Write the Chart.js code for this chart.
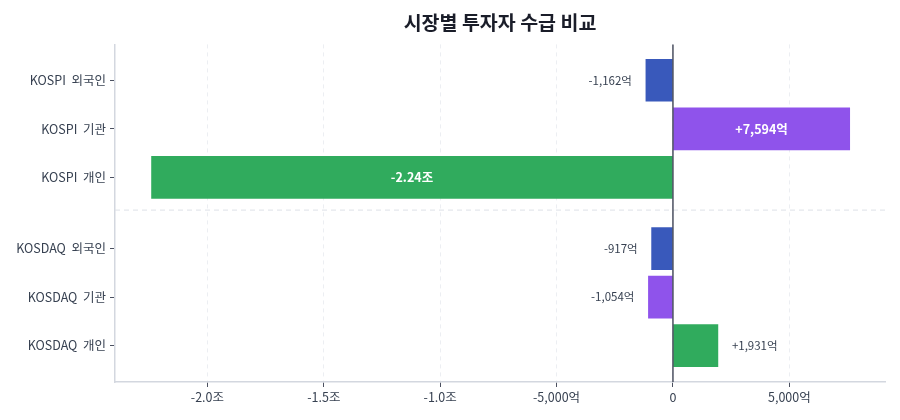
<!DOCTYPE html>
<html>
<head>
<meta charset="utf-8">
<script src="https://cdn.jsdelivr.net/npm/chart.js@4/dist/chart.umd.min.js"></script>
<style>
html,body{margin:0;padding:0;background:#fff;}
#wrap{width:900px;height:420px;}
</style>
</head>
<body>
<div id="wrap"><canvas id="c" width="900" height="420"></canvas></div>
<script>
const markets = ['KOSPI', 'KOSDAQ'];
const investors = ['외국인', '기관', '개인'];
const kospiValues = [-1162, 7594, -22400];   // 억원
const kosdaqValues = [-917, -1054, 1931];    // 억원
const xTickValues = [-20000, -15000, -10000, -5000, 0, 5000];
const xTickLabels = ['-2.0조', '-1.5조', '-1.0조', '-5,000억', '0', '5,000억'];

const investorColors = ['rgba(49,82,184,0.96)', 'rgba(138,76,234,0.96)', 'rgba(40,168,86,0.96)'];
const groupGap = 0.47;

const seriesByMarket = [kospiValues, kosdaqValues];
const points = [], colors = [], labels = [], positions = [];
markets.forEach((m, gi) => {
  investors.forEach((inv, ii) => {
    const pos = gi * (investors.length + groupGap) + ii;
    points.push({x: seriesByMarket[gi][ii], y: pos});
    colors.push(investorColors[ii]);
    labels.push(m + '  ' + inv);
    positions.push(pos);
  });
});

function fmtValue(v) {
  const sign = v > 0 ? '+' : (v < 0 ? '-' : '');
  const a = Math.abs(v);
  if (a >= 10000) return sign + (a / 10000).toFixed(2) + '조';
  return sign + a.toLocaleString('en-US') + '억';
}

const FONT = "'Noto Sans CJK KR', 'Noto Sans', sans-serif";

const overlay = {
  id: 'overlay',
  afterDatasetsDraw(chart) {
    const {ctx, chartArea: ca, scales: {x, y}} = chart;
    ctx.save();
    // separator between markets
    const sepY = y.getPixelForValue(2 + (1 + groupGap) * 0.46);
    ctx.strokeStyle = '#dde1e7';
    ctx.lineWidth = 1;
    ctx.setLineDash([5, 4]);
    ctx.beginPath();
    ctx.moveTo(ca.left, sepY);
    ctx.lineTo(ca.right, sepY);
    ctx.stroke();
    ctx.setLineDash([]);
    // zero line
    const zx = x.getPixelForValue(0);
    ctx.strokeStyle = '#4b5060';
    ctx.lineWidth = 1.5;
    ctx.beginPath();
    ctx.moveTo(zx, ca.top);
    ctx.lineTo(zx, ca.bottom);
    ctx.stroke();
    // value labels
    const meta = chart.getDatasetMeta(0);
    meta.data.forEach((bar, i) => {
      const v = points[i].x;
      const w = Math.abs(bar.x - bar.base);
      const txt = fmtValue(v);
      ctx.textBaseline = 'middle';
      if (w > 120) {
        ctx.font = 'bold 12.5px ' + FONT;
        ctx.fillStyle = '#ffffff';
        ctx.textAlign = 'center';
        ctx.fillText(txt, (bar.x + bar.base) / 2, bar.y);
      } else {
        ctx.font = '11.5px ' + FONT;
        ctx.fillStyle = '#374151';
        if (v < 0) {
          ctx.textAlign = 'right';
          ctx.fillText(txt, bar.x - 14, bar.y);
        } else {
          ctx.textAlign = 'left';
          ctx.fillText(txt, bar.x + 14, bar.y);
        }
      }
    });
    ctx.restore();
  }
};

new Chart(document.getElementById('c'), {
  type: 'bar',
  data: {
    datasets: [{
      data: points,
      backgroundColor: colors,
      borderWidth: 0,
      barThickness: 42
    }]
  },
  options: {
    responsive: false,
    animation: false,
    indexAxis: 'y',
    layout: {padding: {left: 10, right: 15, top: 9, bottom: 4}},
    plugins: {
      legend: {display: false},
      tooltip: {enabled: false},
      title: {
        display: true,
        fullSize: false,
        text: '시장별 투자자 수급 비교',
        color: '#1a1d29',
        font: {family: FONT, size: 19.5, weight: 'bold'},
        padding: {top: 2, bottom: 10}
      }
    },
    scales: {
      x: {
        type: 'linear',
        min: -23970,
        max: 9110,
        afterBuildTicks: (s) => { s.ticks = xTickValues.map(v => ({value: v})); },
        afterFit: (s) => { s.height = 34; },
        ticks: {
          color: '#374151',
          font: {family: FONT, size: 12.5},
          padding: 3,
          callback: (v) => { const k = xTickValues.indexOf(v); return k >= 0 ? xTickLabels[k] : ''; }
        },
        grid: {color: '#eceef2', tickColor: '#4b5060', tickLength: 5, lineWidth: 1},
        border: {display: true, color: '#d3d7df', width: 1.5, dash: [4, 4]}
      },
      y: {
        type: 'linear',
        reverse: true,
        offset: false,
        min: -0.74,
        max: 6.22,
        afterBuildTicks: (s) => { s.ticks = positions.map(v => ({value: v})); },
        afterFit: (s) => { s.width = 105; },
        ticks: {
          color: '#374151',
          font: {family: FONT, size: 12.5},
          padding: 4,
          callback: (v) => { const k = positions.indexOf(v); return k >= 0 ? labels[k] : ''; }
        },
        grid: {drawOnChartArea: false, offset: false, tickColor: '#4b5060', tickLength: 5},
        border: {display: true, color: '#d3d7df', width: 1.5}
      }
    }
  },
  plugins: [overlay]
});
</script>
</body>
</html>
